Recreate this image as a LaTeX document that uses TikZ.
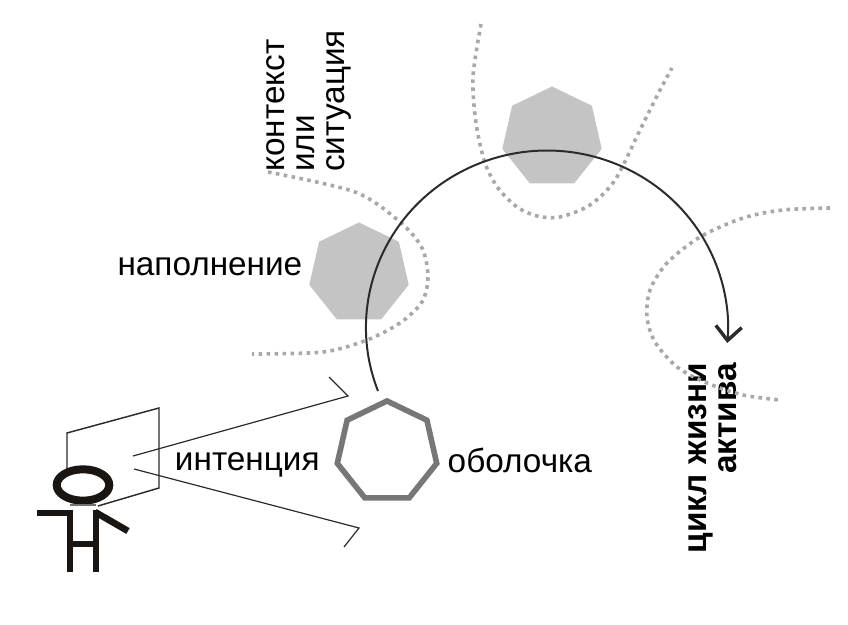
\documentclass[tikz,border=0pt]{standalone}
\usepackage{fontspec}
\setmainfont{Liberation Sans}
\usetikzlibrary{positioning,arrows.meta,shapes.geometric}
\definecolor{cFiller}{HTML}{C4C4C4}
\definecolor{cShell}{HTML}{777777}
\definecolor{cDots}{HTML}{A8A8A8}
\definecolor{cFigure}{HTML}{1A1511}
\definecolor{cCycle}{HTML}{2B2B2B}
\tikzset{
  heptagon/.style={regular polygon,regular polygon sides=7,minimum size=76.5pt,inner sep=0pt,outer sep=0pt},
  fillerShape/.style={heptagon,fill=cFiller},
  dotLine/.style={cDots,line width=2.7pt,dash pattern=on 2.7pt off 3.3pt},
  viewLine/.style={cCycle,line width=0.9pt},
  limb/.style={cFigure,line width=5pt},
  caption/.style={font=\fontsize{25}{22.5}\selectfont,inner sep=0pt}
}

\begin{document}
\begin{tikzpicture}[x=0.75pt,y=0.75pt]
  \useasboundingbox (0,0) rectangle (848,624);
  \node[fillerShape] (fillerLeft) at (359,350.5) {};
  \node[fillerShape] (fillerTop) at (552,486.5) {};
  \node[heptagon,draw=cShell,line width=4.2pt] (shell) at (387,172) {};
  \node[caption,left=7pt of fillerLeft,yshift=5pt] (fillerLabel) {наполнение};
  \node[caption,left=15pt of shell,yshift=-9.5pt] (intentLabel) {интенция};
  \node[caption,right=10pt of shell,yshift=-6pt] (shellLabel) {оболочка};
  \node[caption,rotate=90,align=left,anchor=north west] (contextLabel) at (266,452) {контекст\\или\\ситуация};
  \node[caption,rotate=90,align=right,anchor=north east,font=\fontsize{25}{22.5}\selectfont\bfseries] (cycleLabel) at (688,261) {цикл жизни\\актива};
  \draw[dotLine] plot[smooth] coordinates {(268,452) (355,432) (400,402) (422,376) (428,347) (422,322) (400,301) (367,284) (323,272) (252,270)};
  \draw[dotLine] plot[smooth] coordinates {(481,600) (473,547) (476,501) (485,461) (498,436) (517,417) (537,408) (560,407) (590,419) (615,444) (640,494) (660,534) (672,556)};
  \draw[dotLine] plot[smooth] coordinates {(830,416) (783,414) (743,406) (700,387) (667,361) (650,334) (647,307) (655,282) (677,257) (707,241) (743,229) (780,224)};
  \coordinate (cycleStart) at (378,233);
  \draw[cCycle,line width=1.5pt,-{Straight Barb[length=10.5pt,width=19.5pt,line width=2.6pt]}] (cycleStart) arc[start angle=201,end angle=-5,x radius=181,y radius=177];
  \draw[cCycle,line width=1.1pt] (67,154) -- (67,191) -- (159,216) -- (159,136) -- (98,118);
  \coordinate (viewTopEye) at (133,168);
  \coordinate (viewTopEnd) at (348,228);
  \coordinate (viewTopTick) at (329,247);
  \coordinate (viewLowEye) at (134,155);
  \coordinate (viewLowEnd) at (359,96);
  \coordinate (viewLowTick) at (344,77);
  \draw[viewLine] (viewTopEye) -- (viewTopEnd) -- (viewTopTick);
  \draw[viewLine] (viewLowEye) -- (viewLowEnd) -- (viewLowTick);
  \draw[cFigure,fill=white,line width=6pt] (83,139) ellipse[x radius=26.3,y radius=15.7];
  \draw[cFigure!60,line width=0.8pt] (70,119) -- (96,119);
  \draw[limb] (70,114) -- (70,52);
  \draw[limb] (96,114) -- (96,52);
  \draw[limb] (68,80) -- (93,80);
  \draw[limb] (37,111) -- (73,111);
  \draw[limb] (95,112) -- (128,93);
\end{tikzpicture}
\end{document}
